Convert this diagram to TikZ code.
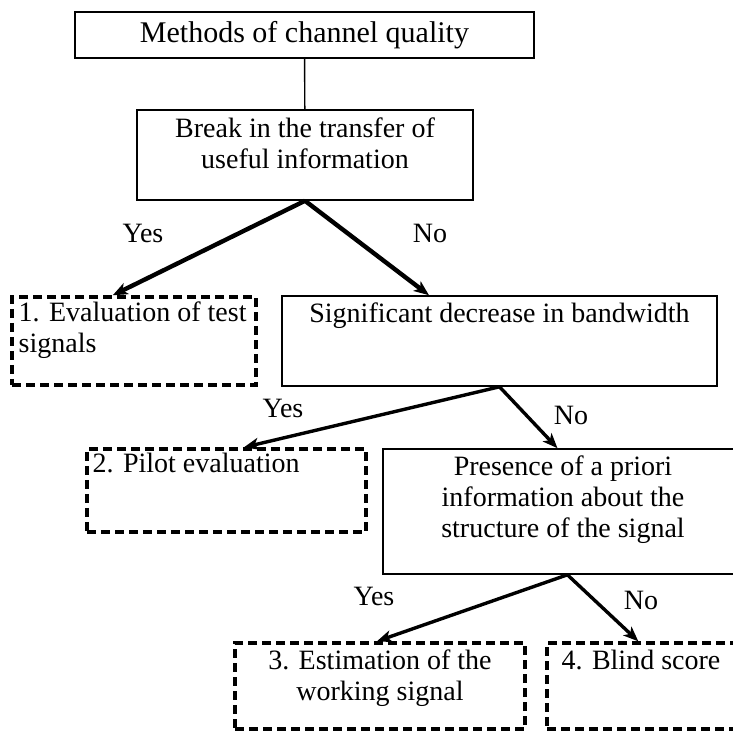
\documentclass[tikz,border=0pt]{standalone}
\usepackage{fontspec}
\setmainfont{Liberation Serif}
\usetikzlibrary{arrows.meta, positioning}

\begin{document}
\begin{tikzpicture}[
  x=0.5pt, y=0.5pt,
  every node/.style={font=\fontsize{14pt}{15.5pt}\selectfont},
  decision/.style={draw, line width=0.8pt, inner sep=0pt},
  method/.style={draw, line width=1.7pt, dash pattern=on 4.5pt off 2.5pt, inner sep=0pt},
  txt/.style={inner sep=0pt, align=center},
  arrow/.style={-{Stealth[length=7.5pt, width=6pt, inset=2pt]}, line width=1.7pt},
  lbl/.style={inner sep=0pt}
]
  \useasboundingbox (0,0) rectangle (733,-731);
  \clip (0,0) rectangle (733,-731);

  % Questions
  \node[decision, minimum width=229.5pt, minimum height=23pt, font=\fontsize{15pt}{16pt}\selectfont] (top) at (304.5,-35) {Methods of channel quality};
  \node[decision, minimum width=168pt, minimum height=45pt] (brk) at (305,-155) {};
  \node[txt, below=4pt of brk.north] (brktxt) {Break in the transfer of\\useful information};
  \node[decision, minimum width=217.5pt, minimum height=45pt] (sig) at (499.5,-341) {};
  \node[txt, below=3.5pt of sig.north] (sigtxt) {Significant decrease in bandwidth};
  \node[decision, minimum width=180pt, minimum height=62.5pt] (pres) at (563,-511.5) {};
  \node[txt, below=3.5pt of pres.north] (prestxt) {Presence of a priori\\information about the\\structure of the signal};

  % Methods
  \node[method, minimum width=122pt, minimum height=44pt] (ev1) at (134,-341) {};
  \node[txt, align=left, below right=3pt and 4pt of ev1.north west] (ev1txt) {1. Evaluation of test\\signals};
  \node[method, minimum width=139.5pt, minimum height=41.5pt] (pil) at (226.5,-490.5) {};
  \node[txt, align=left, below right=2.5pt and 3.5pt of pil.north west] (piltxt) {2. Pilot evaluation};
  \node[method, minimum width=145pt, minimum height=43pt] (est) at (380,-686) {};
  \node[txt, below=4pt of est.north] (esttxt) {3. Estimation of the\\working signal};
  \node[method, minimum width=100pt, minimum height=43pt] (bli) at (647,-686) {};
  \node[txt, align=left, below right=4pt and 8pt of bli.north west] (blitxt) {4. Blind score};

  % Arrows
  \draw[line width=0.7pt] (top) -- (brk);
  \draw[arrow, line width=2.2pt] (brk.south) -- (ev1.115.5);
  \draw[arrow, line width=2.2pt] (brk.south) -- (sig.147.8);
  \draw[arrow] (sig.south) -- (pil.68.3);
  \draw[arrow] (sig.south) -- (pres.95.5);
  \draw[arrow] (pres.-86) -- (est.94);
  \draw[arrow] (pres.-86) -- (bli.101.8);

  % Answers
  \node[lbl] (yes1) at (143,-233) {Yes};
  \node[lbl] (no1) at (430,-233) {No};
  \node[lbl] (yes2) at (283,-408) {Yes};
  \node[lbl] (no2) at (571,-415) {No};
  \node[lbl] (yes3) at (374,-596) {Yes};
  \node[lbl] (no3) at (641,-600) {No};
\end{tikzpicture}
\end{document}
